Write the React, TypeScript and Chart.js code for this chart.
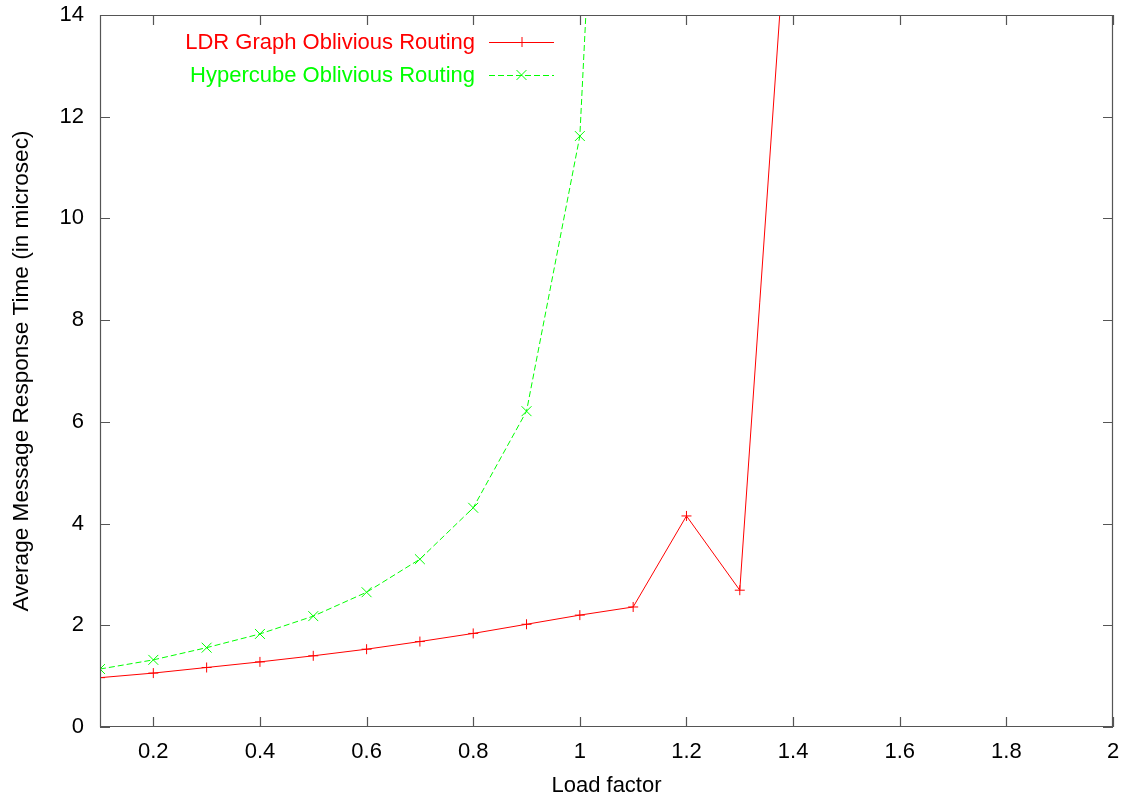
import React, { useEffect, useRef } from "react";
import { Chart, registerables } from "chart.js";

Chart.register(...registerables);

// Load factor values at which each routing scheme was measured
const ldrLoads = [0.1, 0.2, 0.3, 0.4, 0.5, 0.6, 0.7, 0.8, 0.9, 1.0, 1.1, 1.2, 1.3, 1.4];
const ldrTimes = [0.97, 1.06, 1.17, 1.28, 1.4, 1.53, 1.68, 1.84, 2.02, 2.2, 2.36, 4.15, 2.69, 17.8];

const cubeLoads = [0.1, 0.2, 0.3, 0.4, 0.5, 0.6, 0.7, 0.8, 0.9, 1.0, 1.1];
const cubeTimes = [1.14, 1.32, 1.56, 1.83, 2.18, 2.65, 3.3, 4.31, 6.21, 11.62, 32.8];

const xTicks = [0.2, 0.4, 0.6, 0.8, 1.0, 1.2, 1.4, 1.6, 1.8, 2.0];
const yTicks = [0, 2, 4, 6, 8, 10, 12, 14];

const seriesLabels = ["LDR Graph Oblivious Routing", "Hypercube Oblivious Routing"];
const xTitle = "Load factor";
const yTitle = "Average Message Response Time (in microsec)";

const FONT = "'Liberation Sans', Arial, Helvetica, sans-serif";
const FONT_SIZE = 22;

// Gnuplot-like frame with inward tick marks on all four sides
const framePlugin = {
  id: "frameTicks",
  afterDatasetsDraw(chart: any) {
    const { ctx, chartArea: a, scales } = chart;
    const len = 10;
    ctx.save();
    ctx.strokeStyle = "#555555";
    ctx.lineWidth = 1.2;
    ctx.beginPath();
    ctx.rect(a.left + 0.5, a.top + 0.5, a.right - a.left - 1, a.bottom - a.top - 1);
    for (const v of xTicks) {
      const px = Math.round(scales.x.getPixelForValue(v)) + 0.5;
      ctx.moveTo(px, a.bottom);
      ctx.lineTo(px, a.bottom - len);
      ctx.moveTo(px, a.top);
      ctx.lineTo(px, a.top + len);
    }
    for (const v of yTicks) {
      const py = Math.round(scales.y.getPixelForValue(v)) + 0.5;
      ctx.moveTo(a.left, py);
      ctx.lineTo(a.left + len, py);
      ctx.moveTo(a.right, py);
      ctx.lineTo(a.right - len, py);
    }
    ctx.stroke();
    ctx.restore();
  },
};

// Key in the upper left: right-aligned label followed by a line sample with its marker
const keyPlugin = {
  id: "gnuKey",
  afterDraw(chart: any) {
    const { ctx } = chart;
    const textRight = 475;
    const lineStart = 489;
    const lineEnd = 554;
    const rows = [42, 75];
    ctx.save();
    ctx.font = `${FONT_SIZE}px ${FONT}`;
    ctx.textAlign = "right";
    ctx.textBaseline = "middle";
    chart.data.datasets.forEach((ds: any, i: number) => {
      const y = rows[i];
      ctx.fillStyle = ds.borderColor;
      ctx.fillText(ds.label, textRight, y + 1);
      ctx.strokeStyle = ds.borderColor;
      ctx.lineWidth = 1;
      ctx.setLineDash(ds.borderDash || []);
      ctx.beginPath();
      ctx.moveTo(lineStart, y + 0.5);
      ctx.lineTo(lineEnd, y + 0.5);
      ctx.stroke();
      ctx.setLineDash([]);
      const cx = (lineStart + lineEnd) / 2;
      const r = ds.pointRadius;
      ctx.beginPath();
      if (ds.pointStyle === "cross") {
        ctx.moveTo(cx - r, y + 0.5);
        ctx.lineTo(cx + r, y + 0.5);
        ctx.moveTo(cx + 0.5, y - r);
        ctx.lineTo(cx + 0.5, y + r);
      } else {
        const d = r * Math.SQRT1_2;
        ctx.moveTo(cx - d, y - d);
        ctx.lineTo(cx + d, y + d);
        ctx.moveTo(cx - d, y + d);
        ctx.lineTo(cx + d, y - d);
      }
      ctx.stroke();
    });
    ctx.restore();
  },
};

export default function App() {
  const canvasRef = useRef<HTMLCanvasElement | null>(null);

  useEffect(() => {
    if (!canvasRef.current) return;
    const chart = new Chart(canvasRef.current, {
      type: "line",
      data: {
        datasets: [
          {
            label: seriesLabels[0],
            data: ldrLoads.map((x, i) => ({ x, y: ldrTimes[i] })),
            borderColor: "#ff0000",
            backgroundColor: "#ff0000",
            borderWidth: 1,
            pointStyle: "cross",
            pointRadius: 5,
            pointBorderWidth: 1,
            tension: 0,
          },
          {
            label: seriesLabels[1],
            data: cubeLoads.map((x, i) => ({ x, y: cubeTimes[i] })),
            borderColor: "#00ff00",
            backgroundColor: "#00ff00",
            borderWidth: 1,
            borderDash: [6, 3],
            pointStyle: "crossRot",
            pointRadius: 7,
            pointBorderWidth: 1,
            tension: 0,
          },
        ],
      },
      options: {
        responsive: false,
        animation: false,
        layout: { padding: { top: 15, right: 13, left: 0, bottom: 0 } },
        plugins: {
          legend: { display: false },
          tooltip: { enabled: false },
        },
        scales: {
          x: {
            type: "linear",
            min: 0.1,
            max: 2,
            grid: { display: false, drawTicks: false },
            border: { display: false },
            afterBuildTicks: (scale: any) => {
              scale.ticks = xTicks.map((v) => ({ value: v }));
            },
            afterFit: (scale: any) => {
              scale.height = 68;
              scale.paddingLeft = 0;
              scale.paddingRight = 0;
            },
            ticks: {
              color: "#000000",
              padding: 12,
              maxRotation: 0,
              autoSkip: false,
              font: { family: FONT, size: FONT_SIZE },
              callback: (v: any) => String(Math.round(Number(v) * 10) / 10),
            },
            title: {
              display: true,
              text: xTitle,
              color: "#000000",
              padding: { top: 0, bottom: -4 },
              font: { family: FONT, size: FONT_SIZE },
            },
          },
          y: {
            type: "linear",
            min: 0,
            max: 14,
            grid: { display: false, drawTicks: false },
            border: { display: false },
            afterBuildTicks: (scale: any) => {
              scale.ticks = yTicks.map((v) => ({ value: v }));
            },
            afterFit: (scale: any) => {
              scale.width = 100;
              scale.paddingTop = 0;
              scale.paddingBottom = 0;
            },
            ticks: {
              color: "#000000",
              padding: 16,
              font: { family: FONT, size: FONT_SIZE },
            },
            title: {
              display: true,
              text: yTitle,
              color: "#000000",
              padding: { top: 8, bottom: 0 },
              font: { family: FONT, size: 22.6 },
            },
          },
        },
      },
      plugins: [framePlugin, keyPlugin],
    });
    return () => chart.destroy();
  }, []);

  return (
    <div style={{ position: "fixed", left: 0, top: 0, width: 1126, height: 795, background: "#ffffff" }}>
      <canvas ref={canvasRef} width={1126} height={795} />
    </div>
  );
}
